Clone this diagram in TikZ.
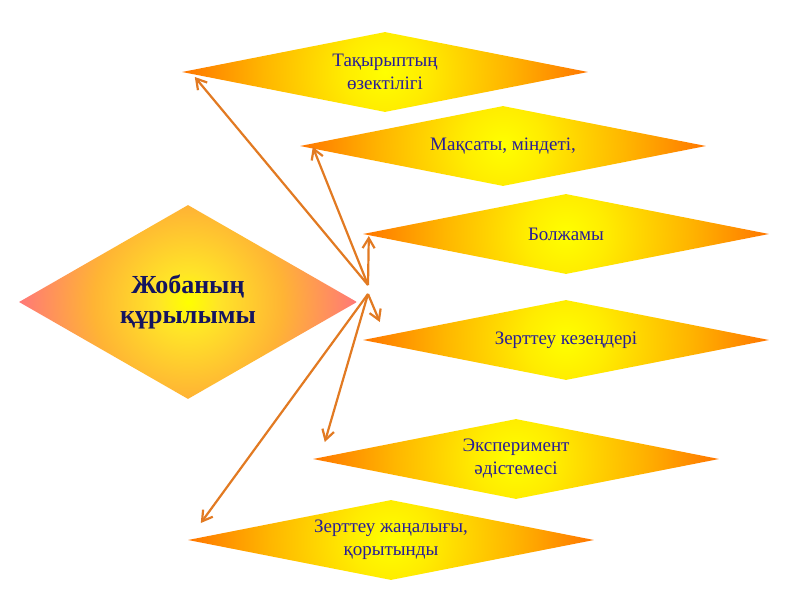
\documentclass[tikz,border=0pt]{standalone}
\usepackage{fontspec}
\setmainfont{Liberation Serif}
\usetikzlibrary{arrows.meta,shapes.geometric}
\definecolor{arrowc}{RGB}{226,122,34}
\definecolor{txtc}{RGB}{40,30,150}
\definecolor{ctxtc}{RGB}{20,20,95}
\pgfdeclareradialshading{sideshade}{\pgfpoint{0bp}{0bp}}{%
  color(0bp)=(rgb,255:red,255;green,255;blue,0);
  color(5bp)=(rgb,255:red,255;green,236;blue,0);
  color(15bp)=(rgb,255:red,255;green,182;blue,0);
  color(25bp)=(rgb,255:red,255;green,118;blue,0);
  color(50bp)=(rgb,255:red,255;green,118;blue,0)}
\pgfdeclareradialshading{centershade}{\pgfpoint{0bp}{0bp}}{%
  color(0bp)=(rgb,255:red,255;green,255;blue,0);
  color(4.5bp)=(rgb,255:red,255;green,228;blue,40);
  color(14bp)=(rgb,255:red,255;green,180;blue,52);
  color(25bp)=(rgb,255:red,255;green,120;blue,120);
  color(50bp)=(rgb,255:red,255;green,120;blue,120)}
\tikzset{
  sidebox/.style={diamond, aspect=5, inner sep=0pt, minimum width=406pt, minimum height=80pt,
    align=center, text=txtc, font=\fontsize{19}{23}\selectfont,
    path picture={\shade[shading=sideshade] (path picture bounding box.center) circle (203pt);}},
  centerbox/.style={diamond, aspect=1.7, inner sep=0pt, minimum width=338pt, minimum height=194pt,
    align=center, text=ctxtc, font=\bfseries\fontsize{26}{30}\selectfont,
    path picture={\shade[shading=centershade] (path picture bounding box.center) circle (169pt);}},
  conn/.style={draw=arrowc, line width=2.2pt, -{Straight Barb[length=10pt,width=12pt]}}
}
\begin{document}
\begin{tikzpicture}[x=1pt,y=-1pt]
\useasboundingbox[fill=white] (0,0) rectangle (800,600);
\node[centerbox] (c) at (188,302) {Жобаның\\құрылымы};
\node[sidebox] (d1) at (385,72) {Тақырыптың\\өзектілігі};
\node[sidebox] (d2) at (503,146) {Мақсаты, міндеті,};
\node[sidebox] (d3) at (566,234) {Болжамы};
\node[sidebox] (d4) at (566,340) {Зерттеу кезеңдері};
\node[sidebox] (d5) at (516,459) {Эксперимент\\әдістемесі};
\node[sidebox] (d6) at (391,540) {Зерттеу жаңалығы,\\қорытынды};
\coordinate (hubA) at (368,285);
\coordinate (hubB) at (368,294);
\coordinate (e1) at ([shift={(13,5)}]d1.west);
\coordinate (e2) at ([shift={(13,1)}]d2.west);
\coordinate (e3) at ([shift={(6,2)}]d3.west);
\coordinate (e4) at ([shift={(17,-18)}]d4.west);
\coordinate (e5) at ([shift={(12,-17)}]d5.west);
\coordinate (e6) at ([shift={(13,-17)}]d6.west);
\draw[conn] (hubA) -- (e1);
\draw[conn] (hubA) -- (e2);
\draw[conn] (hubA) -- (e3);
\draw[conn] (hubB) -- (e4);
\draw[conn] (hubB) -- (e5);
\draw[conn] (hubB) -- (e6);
\end{tikzpicture}
\end{document}
